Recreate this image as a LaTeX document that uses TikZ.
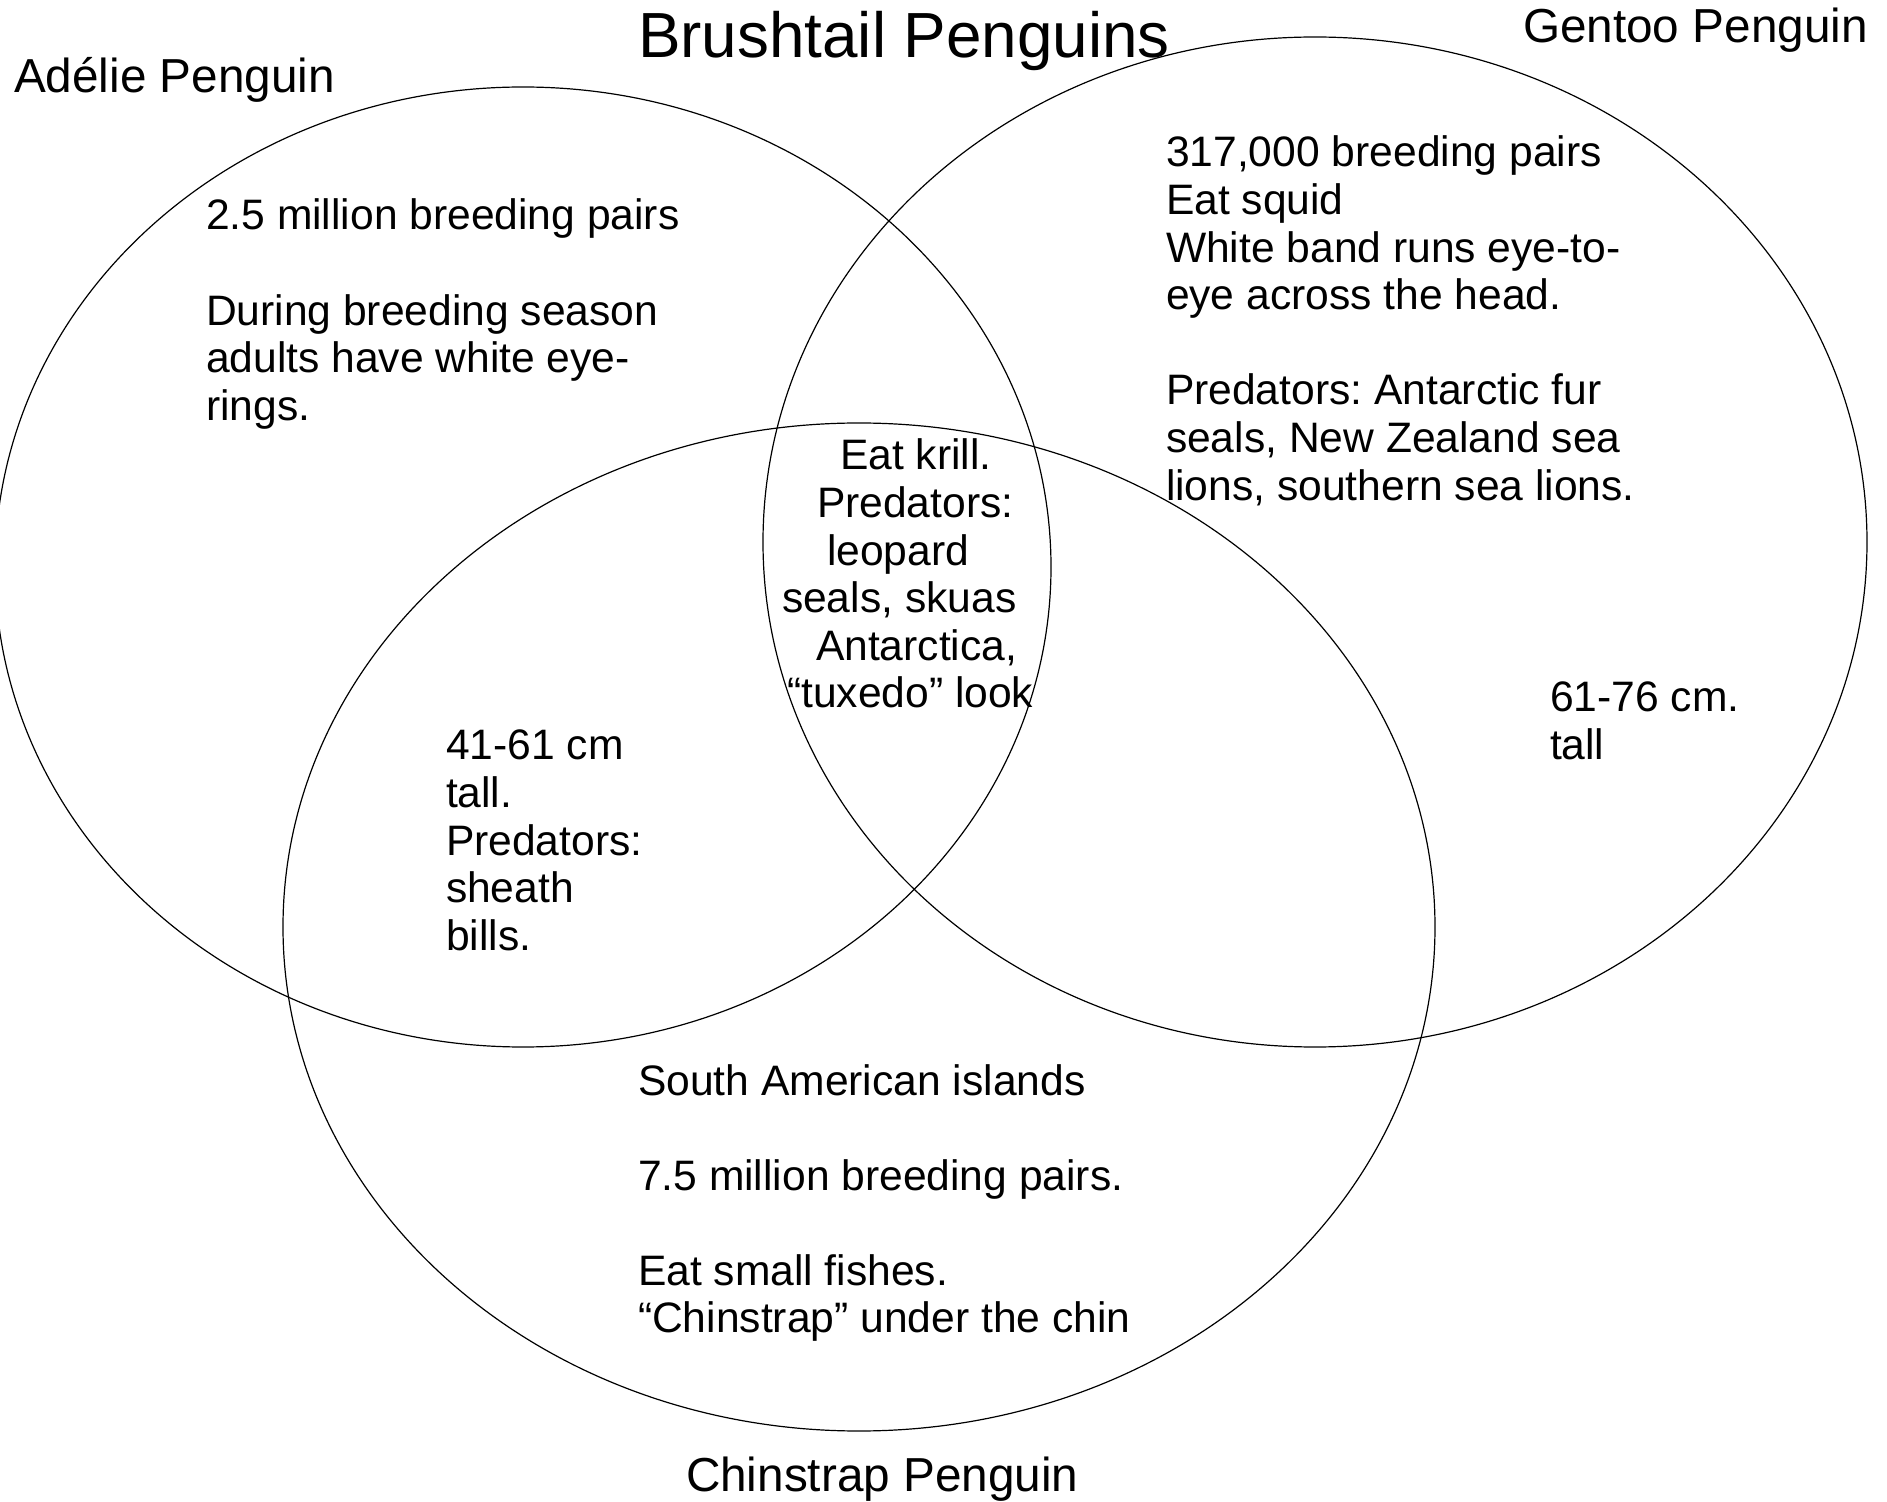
\documentclass[tikz,border=0pt]{standalone}
\usepackage{fontspec}
\setmainfont{Liberation Sans}
\frenchspacing
\newcommand{\blk}[1]{\begin{tabular}[t]{@{}l@{}}#1\end{tabular}}
\tikzset{
  venn/.style={draw=black, line width=0.6pt},
  bodytext/.style={anchor=base west, inner sep=0pt, outer sep=0pt,
    font=\fontsize{21.3pt}{23.8pt}\selectfont},
  settitle/.style={anchor=base west, inner sep=0pt, outer sep=0pt,
    font=\fontsize{23.85pt}{28pt}\selectfont},
  bigtitle/.style={anchor=base west, inner sep=0pt, outer sep=0pt,
    font=\fontsize{31.9pt}{36pt}\selectfont}
}
\begin{document}
\begin{tikzpicture}[x=0.5pt,y=-0.5pt]
\fill[white] (0,0) rectangle (1887,1502);
\useasboundingbox (0,0) rectangle (1887,1502);
% sets
\draw[venn] (523,567) ellipse [x radius=264pt, y radius=240pt];
\draw[venn] (1315,542) ellipse [x radius=276pt, y radius=252.5pt];
\draw[venn] (859,927) ellipse [x radius=288pt, y radius=252pt];
% titles
\node[bigtitle] (title) at (638,58) {Brushtail Penguins};
\node[settitle] (adelie) at (14,93) {Adélie Penguin};
\node[settitle] (gentoo) at (1523,43) {Gentoo Penguin};
\node[settitle] (chinstrap) at (686,1491) {Chinstrap Penguin};
% texts
\node[bodytext] (tA) at (206,230) {\blk{2.5 million breeding pairs\\ \\During breeding season\\adults have white eye-\\rings.}};
\node[bodytext] (tG) at (1166,167) {\blk{317,000 breeding pairs\\Eat squid\\White band runs eye-to-\\eye across the head.\\ \\Predators: Antarctic fur\\seals, New Zealand sea\\lions, southern sea lions.}};
\node[bodytext] (tAC) at (446,760) {\blk{41-61 cm\\tall.\\Predators:\\sheath\\bills.}};
\node[bodytext] (tGo) at (1550,712) {\blk{61-76 cm.\\tall}};
\node[bodytext] (tAll) at (782,470) {\blk{\hspace*{29pt}Eat krill.\\\hspace*{17.5pt}Predators:\\\hspace*{22.5pt}leopard\\seals, skuas\\\hspace*{17pt}Antarctica,\\\hspace*{2.5pt}“tuxedo” look}};
\node[bodytext] (tC) at (638,1095) {\blk{South American islands\\ \\7.5 million breeding pairs.\\ \\Eat small fishes.\\“Chinstrap” under the chin}};
\end{tikzpicture}
\end{document}
